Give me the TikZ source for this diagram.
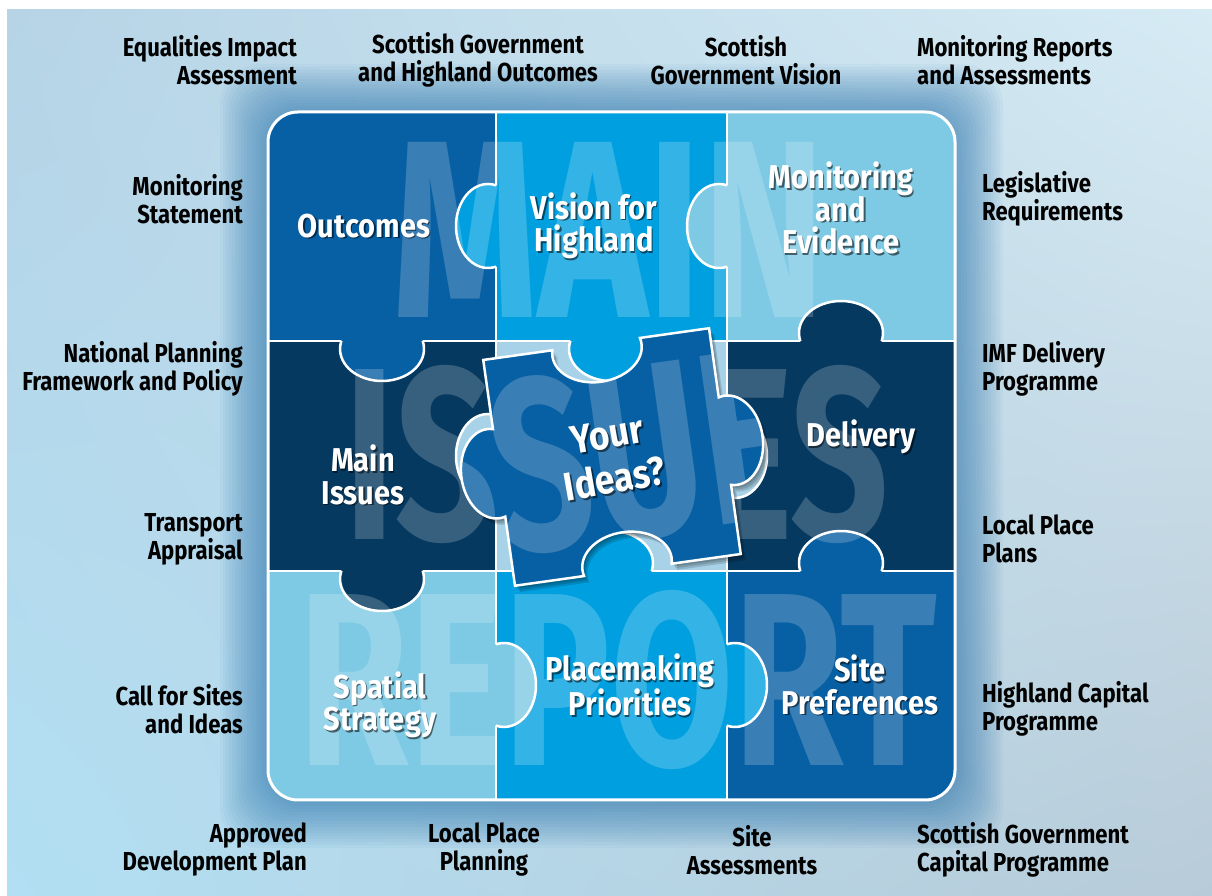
\documentclass[tikz,border=0pt]{standalone}
\usepackage{fontspec}
\setmainfont{Fira Sans}[FakeStretch=0.8]
\newfontfamily\cellfont{Fira Sans}[FakeStretch=0.88]
\newfontfamily\outerfont{Fira Sans}[FakeStretch=0.85]
\usetikzlibrary{positioning,shadings}

\definecolor{darkpiece}{RGB}{8,96,164}
\definecolor{brightpiece}{RGB}{0,160,224}
\definecolor{lightpiece}{RGB}{126,202,228}
\definecolor{navypiece}{RGB}{6,57,96}
\definecolor{slotfill}{RGB}{168,210,232}
\definecolor{glow}{RGB}{30,110,170}
\definecolor{bgtl}{RGB}{182,212,230}
\definecolor{bgtr}{RGB}{214,235,244}
\definecolor{bgbl}{RGB}{178,223,243}
\definecolor{bgbr}{RGB}{184,203,216}

% one tab of a jigsaw piece, base centre (#1,#2), pointing up when #3=0
\newcommand{\knob}[4]{%
  \begin{scope}[shift={(#1,#2)},rotate=#3]
    \fill[#4] (-40.67,-3) -- (-40.67,0) arc[start angle=194.48,end angle=-14.48,x radius=42,y radius=32] -- (40.67,-3) -- cycle;
    \draw[seam] (-40.67,0) arc[start angle=194.48,end angle=-14.48,x radius=42,y radius=32];
  \end{scope}}

\def\piecepath{(-114,114) -- (-44.2,114) arc[start angle=169.19,end angle=370.81,x radius=45,y radius=32] -- (114,114)
  -- (114,44.2) arc[start angle=100.81,end angle=-100.81,x radius=32,y radius=45] -- (114,-114)
  -- (44.2,-114) arc[start angle=-10.81,end angle=190.81,x radius=45,y radius=32] -- (-114,-114)
  -- (-114,-44.2) arc[start angle=280.81,end angle=79.19,x radius=32,y radius=45] -- cycle}

\tikzset{
  seam/.style={white,line width=2.5pt},
  outer/.style={inner sep=0pt,text=black,font=\outerfont\fontsize{26}{28}\selectfont\bfseries},
  celltxt/.style={inner sep=0pt,text=white,align=center,font=\cellfont\fontsize{33}{32.5}\selectfont\bfseries},
  cellsh/.style={celltxt,text=black,text opacity=0.55,xshift=1.5pt,yshift=-1.5pt},
  bigword/.style={inner sep=0pt,text=white,text opacity=0.2,font=\bfseries}
}

\newcommand{\celllabel}[4]{%
  \node[cellsh] (#1-sh) at (#2,#3) {#4};
  \node[celltxt] (#1) at (#2,#3) {#4};}

\begin{document}
\begin{tikzpicture}[x=1pt,y=1pt]
\useasboundingbox (0,0) rectangle (1212,896);
\fill[white] (0,0) rectangle (1212,896);
\shade[upper left=bgtl,upper right=bgtr,lower left=bgbl,lower right=bgbr] (7,0) rectangle (1212,886);

% glow round the board
\foreach \g in {1,...,16}
  \fill[glow,opacity=0.045,rounded corners=40] (268-\g*3,96-\g*3) rectangle (955+\g*3,784+\g*3);

% board
\begin{scope}
\clip[rounded corners=30] (268,96) rectangle (955,784);
\fill[darkpiece] (268,555) rectangle (496,784);
\fill[brightpiece] (496,555) rectangle (727,784);
\fill[lightpiece] (727,555) rectangle (955,784);
\fill[navypiece] (268,325) rectangle (496,555);
\fill[navypiece] (727,325) rectangle (955,555);
\fill[lightpiece] (268,96) rectangle (496,325);
\fill[brightpiece] (496,96) rectangle (727,325);
\fill[darkpiece] (727,96) rectangle (955,325);
\draw[seam] (496,96) -- (496,784);
\draw[seam] (727,96) -- (727,784);
\draw[seam] (268,555) -- (955,555);
\draw[seam] (268,325) -- (955,325);
\knob{496}{670}{90}{brightpiece}
\knob{727}{670}{90}{lightpiece}
\knob{382}{555}{180}{darkpiece}
\knob{841}{555}{0}{navypiece}
\knob{382}{325}{180}{navypiece}
\knob{841}{325}{0}{darkpiece}
\knob{496}{211}{-90}{lightpiece}
\knob{727}{211}{-90}{brightpiece}
% big words
\node[bigword] (main) at (609,666.5) {\resizebox{432pt}{175pt}{MAIN}};
\node[bigword] (issues) at (617,441) {\resizebox{544pt}{174pt}{ISSUES}};
\node[bigword] (report) at (618,215.5) {\resizebox{638pt}{175pt}{REPORT}};
% empty slot
\fill[slotfill] (496,325) rectangle (727,555);
\draw[seam] (496,325) rectangle (727,555);
\knob{496}{440}{90}{slotfill}
\knob{727}{440}{-90}{slotfill}
\knob{611}{555}{180}{brightpiece}
\knob{611}{325}{0}{brightpiece}
\end{scope}
\draw[white,line width=3pt,rounded corners=30] (268,96) rectangle (955,784);

% loose piece
\begin{scope}[shift={(612,439)},rotate=8]
  \foreach \s in {3,5,7}
    \fill[black,opacity=0.14,shift={(\s*0.6,-\s)}] \piecepath;
  \fill[darkpiece] \piecepath;
  \begin{scope}
    \clip \piecepath;
    \node[bigword,transform shape] (issues-p) at (5,2) {\resizebox{544pt}{174pt}{ISSUES}};
  \end{scope}
  \draw[white,line width=2.5pt] \piecepath;
\end{scope}
\node[celltxt,text=black,text opacity=0.55,rotate=10,font=\cellfont\fontsize{40}{45}\selectfont\bfseries] (ideas-sh) at (613,437) {Your\\Ideas?};
\node[celltxt,rotate=10,font=\cellfont\fontsize{40}{45}\selectfont\bfseries] (ideas) at (611,439) {Your\\Ideas?};

% labels on the pieces
\celllabel{outcomes}{364}{670}{Outcomes}
\celllabel{vision}{594}{670}{Vision for\\Highland}
\celllabel{monitoring}{841}{688}{Monitoring\\and\\Evidence}
\celllabel{mainissues}{363}{421}{Main\\Issues}
\celllabel{delivery}{861}{459}{Delivery}
\celllabel{spatial}{380}{191}{Spatial\\Strategy}
\celllabel{placemaking}{630}{211}{Placemaking\\Priorities}
\celllabel{sitepref}{860}{211}{Site\\Preferences}

% labels round the board
\node[outer,anchor=east,align=right] (eqia) at (297,836) {Equalities Impact\\Assessment};
\node[outer,align=center] (sgho) at (478,836) {Scottish Government\\and Highland Outcomes};
\node[outer,align=center] (sgvision) at (746,836) {Scottish\\Government Vision};
\node[outer,anchor=west,align=left] (monrep) at (917,836) {Monitoring Reports\\and Assessments};
\node[outer,anchor=east,align=right] (monstat) at (243,697) {Monitoring\\Statement};
\node[outer,anchor=east,align=right] (npf) at (243,527) {National Planning\\Framework and Policy};
\node[outer,anchor=east,align=right] (transport) at (243,357) {Transport\\Appraisal};
\node[outer,anchor=east,align=right] (callsites) at (243,187) {Call for Sites\\and Ideas};
\node[outer,anchor=west,align=left] (legis) at (982,697) {Legislative\\Requirements};
\node[outer,anchor=west,align=left] (imf) at (982,527) {IMF Delivery\\Programme};
\node[outer,anchor=west,align=left] (lpplans) at (982,357) {Local Place\\Plans};
\node[outer,anchor=west,align=left] (hcp) at (982,187) {Highland Capital\\Programme};
\node[outer,anchor=east,align=right] (approved) at (307,46) {Approved\\Development Plan};
\node[outer,align=center] (lpplanning) at (484,46) {Local Place\\Planning};
\node[outer,align=center] (siteass) at (752,46) {Site\\Assessments};
\node[outer,anchor=west,align=left] (sgcap) at (917,46) {Scottish Government\\Capital Programme};
\end{tikzpicture}
\end{document}
